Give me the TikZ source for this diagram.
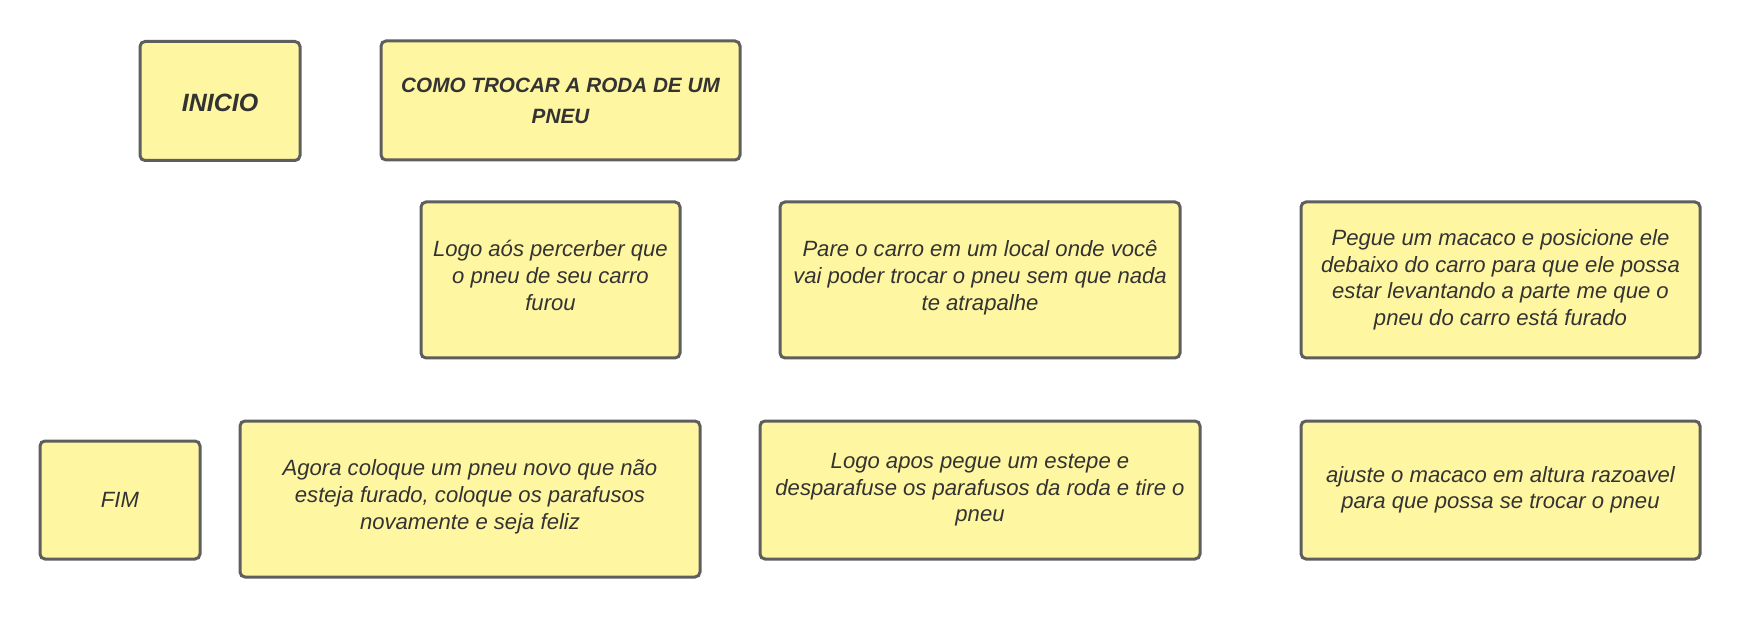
\documentclass[tikz,border=0pt]{standalone}
\usepackage{fontspec}
\setmainfont{Liberation Sans}
\definecolor{boxfill}{HTML}{FFF6A1}
\definecolor{boxline}{HTML}{5E5E5E}
\definecolor{txt}{HTML}{333333}
\newcommand{\uplines}[1]{\raisebox{0pt}[\height][\dimexpr\depth+4.5pt\relax]{\renewcommand{\arraystretch}{1.02}\begin{tabular}{@{}c@{}}#1\end{tabular}}}
\begin{document}
\begin{tikzpicture}[x=1pt,y=-1pt,
  card/.style={draw=boxline, fill=boxfill, line width=3pt, rounded corners=5pt,
    inner sep=0pt, align=center, text=txt,
    font=\fontsize{22.1}{26.5}\selectfont\itshape},
  titlecard/.style={card, font=\fontsize{20.7}{31}\selectfont\bfseries\itshape}]
\useasboundingbox[fill=white] (0,0) rectangle (1740,617);
\node[titlecard, font=\fontsize{25}{31}\selectfont\bfseries\itshape, minimum width=160pt, minimum height=119pt] (inicio) at (220,101) {\raisebox{0pt}[\dimexpr\height+4pt\relax][\depth]{INICIO}};
\node[titlecard, minimum width=359pt, minimum height=119pt] (titulo) at (560.5,100.5) {COMO TROCAR A RODA DE UM\\PNEU};
\node[card, minimum width=259pt, minimum height=156pt] (perceber) at (550.5,280) {\uplines{Logo aós percerber que\\o pneu de seu carro\\furou}};
\node[card, minimum width=400pt, minimum height=156pt] (parar) at (980,280) {\uplines{Pare o carro em um local onde você\\vai poder trocar o pneu sem que nada\\te atrapalhe}};
\node[card, minimum width=399pt, minimum height=156pt] (macaco) at (1500.5,280) {Pegue um macaco e posicione ele\\debaixo do carro para que ele possa\\estar levantando a parte me que o\\pneu do carro está furado};
\node[card, minimum width=160pt, minimum height=118pt] (fim) at (120,500) {FIM};
\node[card, minimum width=460pt, minimum height=156pt] (novo) at (470,499) {\uplines{Agora coloque um pneu novo que não\\esteja furado, coloque os parafusos\\novamente e seja feliz}};
\node[card, minimum width=440pt, minimum height=138pt] (estepe) at (980,490) {Logo apos pegue um estepe e\\desparafuse os parafusos da roda e tire o\\pneu};
\node[card, minimum width=399pt, minimum height=138pt] (ajuste) at (1500.5,490) {ajuste o macaco em altura razoavel\\para que possa se trocar o pneu};
\end{tikzpicture}
\end{document}
